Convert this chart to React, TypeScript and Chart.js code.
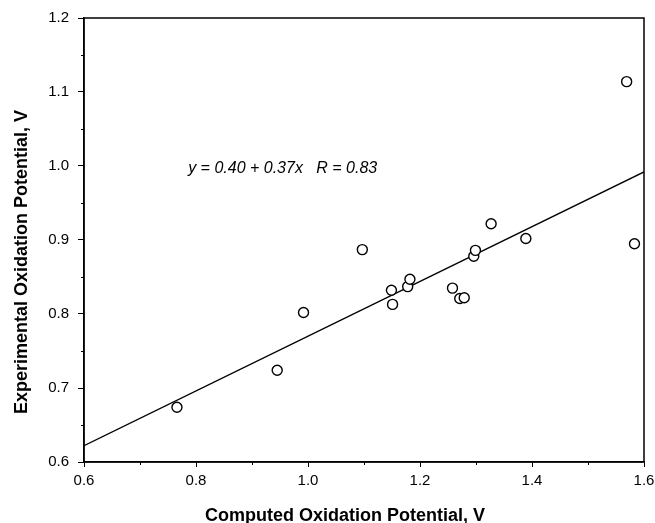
import React, { useEffect, useRef } from "react";
import { Chart, registerables } from "chart.js";

Chart.register(...registerables);

const computedX = [0.766, 0.945, 0.992, 1.097, 1.149, 1.151, 1.178, 1.182, 1.258, 1.271, 1.279, 1.296, 1.299, 1.327, 1.389, 1.569, 1.583];
const experimentalY = [0.674, 0.724, 0.802, 0.887, 0.832, 0.813, 0.837, 0.847, 0.835, 0.821, 0.822, 0.878, 0.886, 0.922, 0.902, 1.114, 0.895];
const fitX = [0.6, 1.6];
const fitY = [0.622, 0.992];
const xTicks = [0.6, 0.8, 1.0, 1.2, 1.4, 1.6];
const yTicks = [0.6, 0.7, 0.8, 0.9, 1.0, 1.1, 1.2];
const xMinor = [0.7, 0.9, 1.1, 1.3, 1.5];
const yMinor = [0.65, 0.75, 0.85, 0.95, 1.05, 1.15];
const equationText = "y = 0.40 + 0.37x   R = 0.83";
const equationPos = { x: 0.786, y: 0.991 };
const xTitle = "Computed Oxidation Potential, V";
const yTitle = "Experimental Oxidation Potential, V";

const FONT = "Arial, 'Liberation Sans', Helvetica, sans-serif";

const framePlugin = {
  id: "frame",
  afterDraw(chart: any) {
    const { ctx, chartArea } = chart;
    const xs = chart.scales.x;
    const ys = chart.scales.y;
    ctx.save();
    ctx.strokeStyle = "#000";
    ctx.lineWidth = 1.5;
    ctx.strokeRect(chartArea.left, chartArea.top, chartArea.right - chartArea.left, chartArea.bottom - chartArea.top);
    ctx.lineWidth = 1;
    ctx.beginPath();
    xMinor.forEach((v) => {
      const px = Math.round(xs.getPixelForValue(v)) + 0.5;
      ctx.moveTo(px, chartArea.bottom);
      ctx.lineTo(px, chartArea.bottom + 3);
    });
    yMinor.forEach((v) => {
      const py = Math.round(ys.getPixelForValue(v)) + 0.5;
      ctx.moveTo(chartArea.left, py);
      ctx.lineTo(chartArea.left - 3, py);
    });
    ctx.stroke();
    ctx.fillStyle = "#000";
    ctx.font = `italic 16px ${FONT}`;
    ctx.textAlign = "left";
    ctx.textBaseline = "alphabetic";
    ctx.fillText(equationText, xs.getPixelForValue(equationPos.x), ys.getPixelForValue(equationPos.y));
    // axis titles
    ctx.font = `bold 18px ${FONT}`;
    ctx.textAlign = "center";
    ctx.textBaseline = "alphabetic";
    ctx.fillText(xTitle, 345, 521);
    ctx.save();
    ctx.translate(27, 262);
    ctx.rotate(-Math.PI / 2);
    ctx.fillText(yTitle, 0, 0);
    ctx.restore();
    ctx.restore();
  },
};

export default function App() {
  const ref = useRef<HTMLCanvasElement | null>(null);
  useEffect(() => {
    document.body.style.margin = "0";
    const canvas = ref.current;
    if (!canvas) return;
    const chart = new Chart(canvas, {
      type: "scatter",
      data: {
        datasets: [
          {
            type: "line",
            data: fitX.map((x, i) => ({ x, y: fitY[i] })),
            borderColor: "#000",
            borderWidth: 1.4,
            pointRadius: 0,
            fill: false,
            order: 2,
          } as any,
          {
            data: computedX.map((x, i) => ({ x, y: experimentalY[i] })),
            pointStyle: "circle",
            pointRadius: 5,
            pointBorderWidth: 1.4,
            pointBackgroundColor: "#fff",
            pointBorderColor: "#000",
            order: 1,
          },
        ],
      },
      options: {
        responsive: false,
        animation: false,
        layout: { padding: { left: 0, right: 0, top: 18, bottom: 0 } },
        plugins: { legend: { display: false }, tooltip: { enabled: false } },
        scales: {
          x: {
            type: "linear",
            min: 0.6,
            max: 1.6,
            afterBuildTicks: (s: any) => { s.ticks = xTicks.map((v) => ({ value: v })); },
            afterFit: (s: any) => { s.height = 61; s.paddingLeft = 0; s.paddingRight = 11; },
            grid: { drawOnChartArea: false, drawTicks: true, tickLength: 5, color: "#000", lineWidth: 1 },
            border: { display: true, color: "#000", width: 1.5 },
            ticks: { color: "#000", padding: 5, font: { family: FONT, size: 15 }, callback: (v: any) => Number(v).toFixed(1), maxRotation: 0 },
            title: { display: false },
          },
          y: {
            type: "linear",
            min: 0.6,
            max: 1.2,
            afterBuildTicks: (s: any) => { s.ticks = yTicks.map((v) => ({ value: v })); },
            afterFit: (s: any) => { s.width = 84; },
            grid: { drawOnChartArea: false, drawTicks: true, tickLength: 6, color: "#000", lineWidth: 1 },
            border: { display: true, color: "#000", width: 1.5 },
            ticks: { color: "#000", padding: 9, font: { family: FONT, size: 15 }, callback: (v: any) => Number(v).toFixed(1) },
            title: { display: false },
          },
        },
      },
      plugins: [framePlugin],
    } as any);
    return () => chart.destroy();
  }, []);
  return (
    <div style={{ width: 655, height: 523, background: "#fff" }}>
      <canvas ref={ref} width={655} height={523} style={{ display: "block" }} />
    </div>
  );
}
